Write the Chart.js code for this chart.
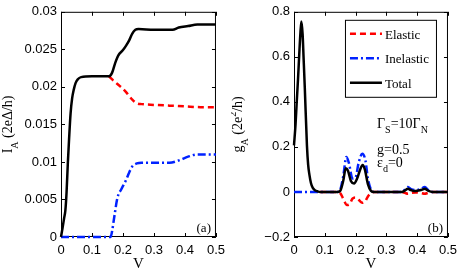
<!DOCTYPE html>
<html>
<head>
<meta charset="utf-8">
<script src="https://cdn.jsdelivr.net/npm/chart.js@4.4.1/dist/chart.umd.min.js"></script>
<style>
  html, body { margin: 0; padding: 0; background: #fff; }
  #wrap { position: relative; width: 463px; height: 273px; }
  canvas { position: absolute; top: 0; }
</style>
</head>
<body>
<div id="wrap">
  <canvas id="chartA" width="231" height="273" style="left:0"></canvas>
  <canvas id="chartB" width="232" height="273" style="left:231px"></canvas>
</div>
<script>
// panel (a): current I_A vs V
const vTotalA = [0, 0.005, 0.01, 0.014, 0.018, 0.022, 0.026, 0.031, 0.036, 0.041, 0.047, 0.054, 0.065, 0.1, 0.155, 0.165, 0.175, 0.185, 0.2, 0.21, 0.22, 0.23, 0.24, 0.25, 0.3, 0.36, 0.38, 0.41, 0.44, 0.5];
const iTotalA = [0, 0.0012, 0.0025, 0.0035, 0.006, 0.0098, 0.013, 0.0165, 0.0185, 0.0196, 0.0205, 0.021, 0.0213, 0.0214, 0.0214, 0.0219, 0.0232, 0.0242, 0.0249, 0.0255, 0.0262, 0.0271, 0.0276, 0.0277, 0.0276, 0.0276, 0.0279, 0.0281, 0.0283, 0.0283];
// elastic equals total below the inelastic threshold, hidden under the black curve there
const vElasticA = [0.155, 0.17, 0.19, 0.21, 0.23, 0.245, 0.26, 0.3, 0.35, 0.4, 0.45, 0.5];
const iElasticA = [0.0214, 0.0208, 0.0201, 0.0193, 0.0183, 0.0178, 0.0177, 0.0176, 0.0175, 0.0174, 0.0173, 0.0173];
const vInelasticA = [0, 0.1, 0.16, 0.165, 0.172, 0.182, 0.195, 0.21, 0.22, 0.23, 0.245, 0.26, 0.3, 0.35, 0.38, 0.41, 0.44, 0.5];
const iInelasticA = [0, 0, 0, 0.0008, 0.0027, 0.0052, 0.0064, 0.0076, 0.0086, 0.0094, 0.0098, 0.0099, 0.0099, 0.0099, 0.0102, 0.0107, 0.011, 0.011];

// panel (b): conductance g_A vs V
const vTotalB = [0, 0.005, 0.0085, 0.013, 0.017, 0.021, 0.024, 0.028, 0.031, 0.035, 0.042, 0.046, 0.05, 0.055, 0.061, 0.068, 0.076, 0.085, 0.14, 0.15, 0.16, 0.168, 0.175, 0.185, 0.195, 0.205, 0.215, 0.223, 0.23, 0.24, 0.25, 0.26, 0.35, 0.36, 0.37, 0.38, 0.39, 0.4, 0.415, 0.425, 0.435, 0.45, 0.5];
const gTotalB = [0.207, 0.3, 0.39, 0.5, 0.61, 0.71, 0.757, 0.7, 0.6, 0.465, 0.207, 0.12, 0.077, 0.04, 0.018, 0.008, 0.003, 0, 0, 0.005, 0.05, 0.105, 0.095, 0.048, 0.038, 0.06, 0.1, 0.12, 0.1, 0.035, 0.005, 0, 0, 0.006, 0.014, 0.008, 0.004, 0.005, 0.01, 0.014, 0.006, 0, 0];
const vElasticB = [0.085, 0.14, 0.15, 0.16, 0.172, 0.18, 0.19, 0.2, 0.21, 0.222, 0.232, 0.24, 0.25, 0.26, 0.35, 0.36, 0.37, 0.38, 0.395, 0.41, 0.425, 0.435, 0.45, 0.5];
const gElasticB = [0, 0, -0.005, -0.03, -0.058, -0.055, -0.03, -0.025, -0.035, -0.048, -0.04, -0.02, -0.005, 0, 0, -0.004, -0.008, -0.004, -0.002, -0.004, -0.008, -0.004, 0, 0];
const vInelasticB = [0, 0.14, 0.15, 0.16, 0.17, 0.178, 0.19, 0.2, 0.21, 0.222, 0.232, 0.24, 0.25, 0.26, 0.35, 0.36, 0.37, 0.38, 0.395, 0.41, 0.425, 0.435, 0.45, 0.5];
const gInelasticB = [0, 0, 0.01, 0.07, 0.155, 0.13, 0.06, 0.065, 0.13, 0.17, 0.14, 0.06, 0.01, 0, 0, 0.01, 0.022, 0.012, 0.008, 0.012, 0.022, 0.01, 0, 0];

const xTicks = [0, 0.1, 0.2, 0.3, 0.4, 0.5];
const yTicksA = [0, 0.005, 0.01, 0.015, 0.02, 0.025, 0.03];
const yTicksB = [-0.2, 0, 0.2, 0.4, 0.6, 0.8];
const seriesNames = ['Elastic', 'Inelastic', 'Total'];

const tickFont = { family: '"Liberation Sans Narrow", "Liberation Sans", Arial, sans-serif', size: 13 };
const serif = '"Liberation Serif", "Times New Roman", serif';

function pts(xs, ys) {
  return xs.map((v, i) => ({ x: v, y: ys[i] }));
}

function fmt(v) {
  return v < 0 ? '\u2212' + String(-v) : String(v);
}

// draws pieces of text, [text, 'sub'|'sup'|undefined], starting at x
function drawParts(ctx, parts, x, y, size) {
  let cx = x;
  parts.forEach(([t, kind]) => {
    const s = kind ? size * 0.72 : size;
    ctx.font = s + 'px ' + serif;
    const dy = kind === 'sub' ? size * 0.4 : kind === 'sup' ? -size * 0.4 : 0;
    ctx.fillText(t, cx, y + dy);
    cx += ctx.measureText(t).width;
  });
  return cx - x;
}

function partsWidth(ctx, parts, size) {
  let w = 0;
  parts.forEach(([t, kind]) => {
    ctx.font = (kind ? size * 0.72 : size) + 'px ' + serif;
    w += ctx.measureText(t).width;
  });
  return w;
}

// matlab-like box with inward ticks (under the curves), then titles, notes, legend
const framePlugin = {
  id: 'frame',
  beforeDatasetsDraw(chart) {
    const { ctx, chartArea: a, scales: { x, y } } = chart;
    ctx.save();
    ctx.strokeStyle = '#000';
    ctx.lineWidth = 1;
    ctx.strokeRect(a.left + 0.5, a.top + 0.5, a.width - 1, a.height - 1);
    const tl = 4;
    ctx.beginPath();
    x.ticks.forEach(t => {
      const px = Math.round(x.getPixelForValue(t.value)) + 0.5;
      ctx.moveTo(px, a.bottom); ctx.lineTo(px, a.bottom - tl);
      ctx.moveTo(px, a.top); ctx.lineTo(px, a.top + tl);
    });
    y.ticks.forEach(t => {
      const py = Math.round(y.getPixelForValue(t.value)) + 0.5;
      ctx.moveTo(a.left, py); ctx.lineTo(a.left + tl, py);
      ctx.moveTo(a.right, py); ctx.lineTo(a.right - tl, py);
    });
    ctx.stroke();
    ctx.restore();
  },
  afterDatasetsDraw(chart, args, opts) {
    const { ctx, chartArea: a } = chart;
    ctx.save();
    ctx.fillStyle = '#000';
    ctx.textBaseline = 'alphabetic';
    ctx.textAlign = 'left';

    // x title
    ctx.font = '15px ' + serif;
    const vw = ctx.measureText('V').width;
    ctx.fillText('V', (a.left + a.right) / 2 - vw / 2, 268);

    // y title, rotated
    const size = 14;
    const w = partsWidth(ctx, opts.yTitle, size);
    ctx.save();
    ctx.translate(opts.yTitleX, (a.top + a.bottom) / 2);
    ctx.rotate(-Math.PI / 2);
    drawParts(ctx, opts.yTitle, -w / 2, 0, size);
    ctx.restore();

    // panel label
    ctx.font = '13px ' + serif;
    ctx.textAlign = 'right';
    ctx.fillText(opts.tag, a.right - 5, a.bottom - 5);
    ctx.textAlign = 'left';

    // notes
    (opts.notes || []).forEach(n => drawParts(ctx, n.parts, a.left + n.dx, a.top + n.dy, 14));

    // legend
    if (opts.legend) {
      const bw = 92, bh = 78;
      const bx = a.right - 103, by = a.top + 8;
      ctx.fillStyle = '#fff';
      ctx.fillRect(bx, by, bw, bh);
      ctx.strokeStyle = '#000';
      ctx.lineWidth = 1;
      ctx.strokeRect(bx + 0.5, by + 0.5, bw - 1, bh - 1);
      seriesNames.forEach((name, i) => {
        const ds = chart.data.datasets.find(d => d.label === name);
        const ly = by + 14 + i * 24.5;
        ctx.beginPath();
        ctx.strokeStyle = ds.borderColor;
        ctx.lineWidth = ds.borderWidth;
        ctx.setLineDash(ds.borderDash || []);
        ctx.moveTo(bx + 5, ly);
        ctx.lineTo(bx + 37, ly);
        ctx.stroke();
        ctx.setLineDash([]);
        ctx.fillStyle = '#000';
        ctx.font = '13px ' + serif;
        ctx.fillText(name, bx + 40, ly + 5);
      });
    }
    ctx.restore();
  }
};

function makeDatasets(el, inel, tot) {
  return [
    { label: 'Elastic', data: el, borderColor: '#ff0000', borderWidth: 2.5, borderDash: [6, 4], order: 2 },
    { label: 'Inelastic', data: inel, borderColor: '#0022ff', borderWidth: 2.5, borderDash: [8, 3, 2, 3], order: 1 },
    { label: 'Total', data: tot, borderColor: '#000000', borderWidth: 2.5, order: 0 }
  ].map(d => Object.assign(d, { pointRadius: 0, fill: false, clip: 4, cubicInterpolationMode: 'monotone' }));
}

function makeOptions(yMin, yMax, yTicks, yWidth, rightPad, frameOpts) {
  return {
    responsive: false,
    animation: false,
    layout: { padding: { top: 6, right: rightPad, left: 0, bottom: 0 } },
    plugins: { legend: { display: false }, tooltip: { enabled: false }, frame: frameOpts },
    scales: {
      x: {
        type: 'linear', min: 0, max: 0.5,
        grid: { display: false, drawTicks: false, tickLength: 0 }, border: { display: false },
        afterBuildTicks: s => { s.ticks = xTicks.map(v => ({ value: v })); },
        afterFit: s => { s.height = 36; },
        ticks: { color: '#000', font: tickFont, padding: 6, maxRotation: 0, callback: v => fmt(v) }
      },
      y: {
        type: 'linear', min: yMin, max: yMax,
        grid: { display: false, drawTicks: false, tickLength: 0 }, border: { display: false },
        afterBuildTicks: s => { s.ticks = yTicks.map(v => ({ value: v })); },
        afterFit: s => { s.width = yWidth; },
        ticks: { color: '#000', font: tickFont, padding: 4, callback: v => fmt(v) }
      }
    }
  };
}

new Chart(document.getElementById('chartA'), {
  type: 'line',
  data: { datasets: makeDatasets(pts(vElasticA, iElasticA), pts(vInelasticA, iInelasticA), pts(vTotalA, iTotalA)) },
  options: makeOptions(0, 0.03, yTicksA, 61, 13, {
    yTitle: [['I'], ['A', 'sub'], [' (2e\u0394/h)']],
    yTitleX: 12,
    tag: '(a)'
  }),
  plugins: [framePlugin]
});

new Chart(document.getElementById('chartB'), {
  type: 'line',
  data: { datasets: makeDatasets(pts(vElasticB, gElasticB), pts(vInelasticB, gInelasticB), pts(vTotalB, gTotalB)) },
  options: makeOptions(-0.2, 0.8, yTicksB, 63, 10, {
    yTitle: [['g'], ['A', 'sub'], [' (2e'], ['2', 'sup'], ['/h)']],
    yTitleX: 11,
    tag: '(b)',
    legend: true,
    notes: [
      { parts: [['\u0393'], ['S', 'sub'], ['=10\u0393'], ['N', 'sub']], dx: 83, dy: 116 },
      { parts: [['g=0.5']], dx: 83, dy: 142 },
      { parts: [['\u03b5'], ['d', 'sub'], ['=0']], dx: 83, dy: 155 }
    ]
  }),
  plugins: [framePlugin]
});
</script>
</body>
</html>
